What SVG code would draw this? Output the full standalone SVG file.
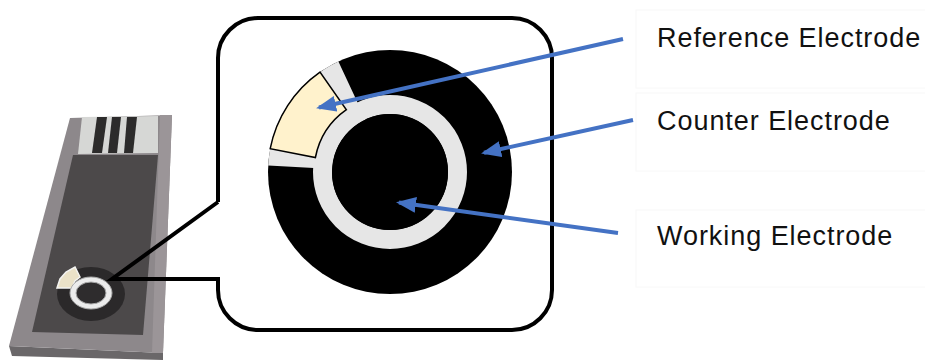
<svg xmlns="http://www.w3.org/2000/svg" width="925" height="360" viewBox="0 0 925 360">
  <style>
    .label { font-family: "Liberation Sans", Arial, sans-serif; font-size: 27px; letter-spacing: 0.95px; fill: #111; }
    .labelbox { fill: none; stroke: #f8f8f8; stroke-width: 1; }
    .pointer { fill: none; stroke: #4472c4; stroke-width: 4; marker-end: url(#head); }
    .outline { fill: none; stroke: #000; stroke-width: 4; stroke-linejoin: miter; stroke-miterlimit: 4; }
  </style>
  <defs>
    <marker id="head" markerUnits="userSpaceOnUse" markerWidth="20" markerHeight="16" viewBox="0 0 20 16" refX="17" refY="8" orient="auto">
      <path d="M0,0 L20,8 L0,16 Z" fill="#4472c4"/>
    </marker>
  </defs>

  <rect width="925" height="360" fill="#fff"/>

  <!-- test strip in perspective -->
  <g id="strip">
    <polygon points="9,346 163,353 163,360 12,356" fill="#6a6769"/>
    <polygon points="70,118 172,115 163,353 9,346" fill="#8d888b"/>
    <polygon points="160,115 172,115 163,353 152,353" fill="#9b9598"/>
    <polygon points="82,117 158,116 158,153 78,154" fill="#d6d7d5"/>
    <polygon points="97,117 107,117 102,153 92,153" fill="#2c2b2b"/>
    <polygon points="112,117 121,117 117,153 108,153" fill="#2c2b2b"/>
    <polygon points="127,117 137,117 133,153 124,153" fill="#2c2b2b"/>
    <polygon points="73,155 158,155 143,335 32,332" fill="#4c494a"/>
    <!-- small printed sensor -->
    <ellipse cx="91" cy="294" rx="34" ry="27" fill="#2b292a"/>
    <path d="M57,288 L60,279 L66,272 L75,267 L80,277 L75,281 L72,288 Z" fill="#ebe2c8" stroke="#f4f4f2" stroke-width="1.5"/>
    <ellipse cx="91" cy="293" rx="21" ry="16" fill="#ececec" stroke="#a9a9a9" stroke-width="1"/>
    <ellipse cx="91" cy="293" rx="15" ry="11" fill="#2e2c2d" stroke="#a9a9a9" stroke-width="1"/>
  </g>

  <!-- magnified callout -->
  <g id="callout">
    <rect x="218" y="18" width="334" height="312" rx="40" ry="40" fill="#fff"/>
    <path class="outline" d="M218,202 V58 A40,40 0 0 1 258,18 H512 A40,40 0 0 1 552,58 V290 A40,40 0 0 1 512,330 H258 A40,40 0 0 1 218,290 V279 H112 L218,202"/>
  </g>

  <!-- counter electrode (outer disc) with the insulating gap around the reference segment -->
  <g id="counter-electrode">
    <circle cx="390" cy="172" r="122" fill="#000"/>
    <path d="M338.4,61.4 A122,122 0 0 0 268.2,165.6 L332.1,169 A58,58 0 0 1 365.5,119.4 Z" fill="#e6e6e6"/>
  </g>

  <!-- working electrode with its ring -->
  <g id="working-electrode">
    <circle cx="390" cy="172" r="67.5" fill="none" stroke="#e6e6e6" stroke-width="19"/>
    <circle cx="390" cy="172" r="58" fill="#000"/>
  </g>

  <!-- reference electrode segment -->
  <g id="reference-electrode">
    <path d="M320,72.1 A122,122 0 0 0 270.2,148.7 L315.4,157.5 A76,76 0 0 1 346.4,109.7 Z" fill="#fff2cc" stroke="#000" stroke-width="1.5" stroke-linejoin="miter"/>
  </g>

  <!-- label pointers -->
  <g id="connectors">
    <line class="pointer" x1="623" y1="39" x2="319" y2="107.5"/>
    <line class="pointer" x1="633" y1="120" x2="484" y2="152.8"/>
    <line class="pointer" x1="618" y1="233" x2="399" y2="202.6"/>
  </g>

  <g id="label-reference">
    <rect class="labelbox" x="636" y="10" width="300" height="78"/>
    <text class="label" x="657" y="47">Reference Electrode</text>
  </g>
  <g id="label-counter">
    <rect class="labelbox" x="636" y="93" width="300" height="78"/>
    <text class="label" x="657" y="130">Counter Electrode</text>
  </g>
  <g id="label-working">
    <rect class="labelbox" x="636" y="210" width="300" height="77"/>
    <text class="label" x="657" y="245">Working Electrode</text>
  </g>
</svg>
